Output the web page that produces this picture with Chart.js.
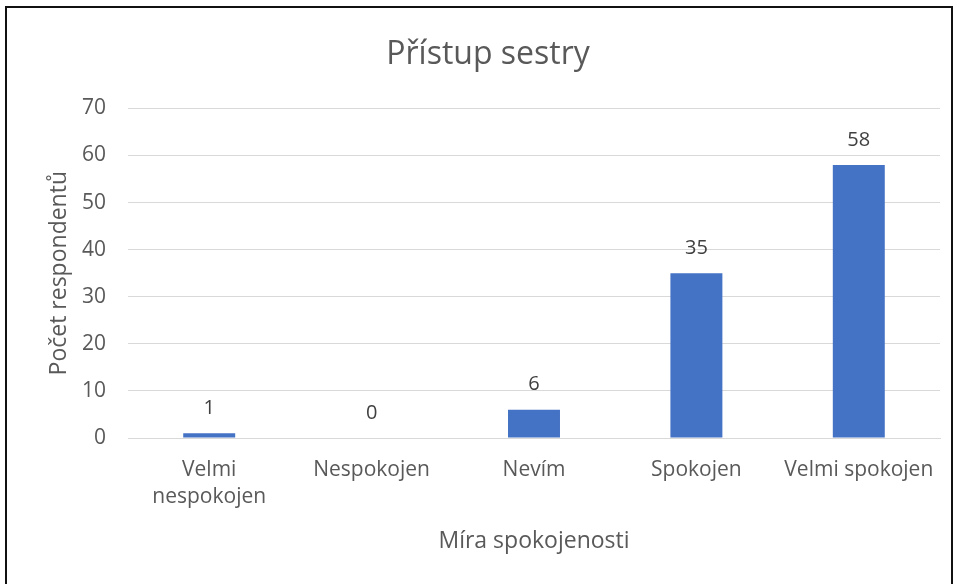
<!DOCTYPE html>
<html>
<head>
<meta charset="utf-8">
<script src="https://cdn.jsdelivr.net/npm/chart.js@4"></script>
<style>
    html, body { margin: 0; padding: 0; background: #fff; }
    #wrap { position: absolute; left: 0; top: 0; width: 960px; height: 584px; }
    #frame { position: absolute; left: 5px; top: 6px; width: 948px; height: 590px; border: 2px solid #111; box-sizing: border-box; }
</style>
</head>
<body>
<div id="wrap">
    <div id="frame"></div>
    <canvas id="barChart" width="960" height="584"></canvas>
</div>
<script>
const categories = [['Velmi', 'nespokojen'], 'Nespokojen', 'Nevím', 'Spokojen', 'Velmi spokojen'];
const respondents = [1, 0, 6, 35, 58];
const yTicks = [0, 10, 20, 30, 40, 50, 60, 70];

const fontName = '"Open Sans", sans-serif';
const textColor = '#595959';

// simple value labels above bars
const barLabels = {
    id: 'barLabels',
    afterDatasetsDraw(chart) {
        const ctx = chart.ctx;
        const meta = chart.getDatasetMeta(0);
        ctx.save();
        ctx.font = '20px ' + fontName;
        ctx.fillStyle = '#404040';
        ctx.textAlign = 'center';
        ctx.textBaseline = 'bottom';
        meta.data.forEach((bar, i) => {
            ctx.fillText(respondents[i], bar.x, bar.y - 15);
        });
        ctx.restore();
    }
};

new Chart(document.getElementById('barChart'), {
    type: 'bar',
    data: {
        labels: categories,
        datasets: [{
            data: respondents,
            backgroundColor: '#4472C4',
            barPercentage: 0.32,
            categoryPercentage: 1
        }]
    },
    options: {
        responsive: false,
        animation: false,
        layout: {
            padding: { left: 36, right: 20, top: 22, bottom: 25 }
        },
        plugins: {
            legend: { display: false },
            tooltip: { enabled: false },
            title: {
                display: true,
                text: 'Přístup sestry',
                color: textColor,
                font: { family: fontName, size: 32, weight: 'normal' },
                padding: { top: 14, bottom: 34 }
            }
        },
        scales: {
            x: {
                grid: { display: false },
                border: { display: true, color: '#d9d9d9' },
                ticks: {
                    color: textColor,
                    font: { family: fontName, size: 21, lineHeight: 1.3 },
                    padding: 10,
                    maxRotation: 0
                },
                title: {
                    display: true,
                    text: 'Míra spokojenosti',
                    color: textColor,
                    font: { family: fontName, size: 23 },
                    padding: { top: 12 }
                },
                afterFit(scale) { scale.height = 121; }
            },
            y: {
                min: 0,
                max: 70,
                afterBuildTicks(scale) { scale.ticks = yTicks.map(v => ({ value: v })); },
                grid: { color: '#d9d9d9', drawTicks: false },
                border: { display: false },
                ticks: {
                    color: textColor,
                    font: { family: fontName, size: 21 },
                    padding: 22
                },
                title: {
                    display: true,
                    text: 'Počet respondentů',
                    color: textColor,
                    font: { family: fontName, size: 23 },
                    padding: { top: 10, bottom: 0 }
                },
                afterFit(scale) { scale.width = 92; }
            }
        }
    },
    plugins: [barLabels]
});
</script>
</body>
</html>
